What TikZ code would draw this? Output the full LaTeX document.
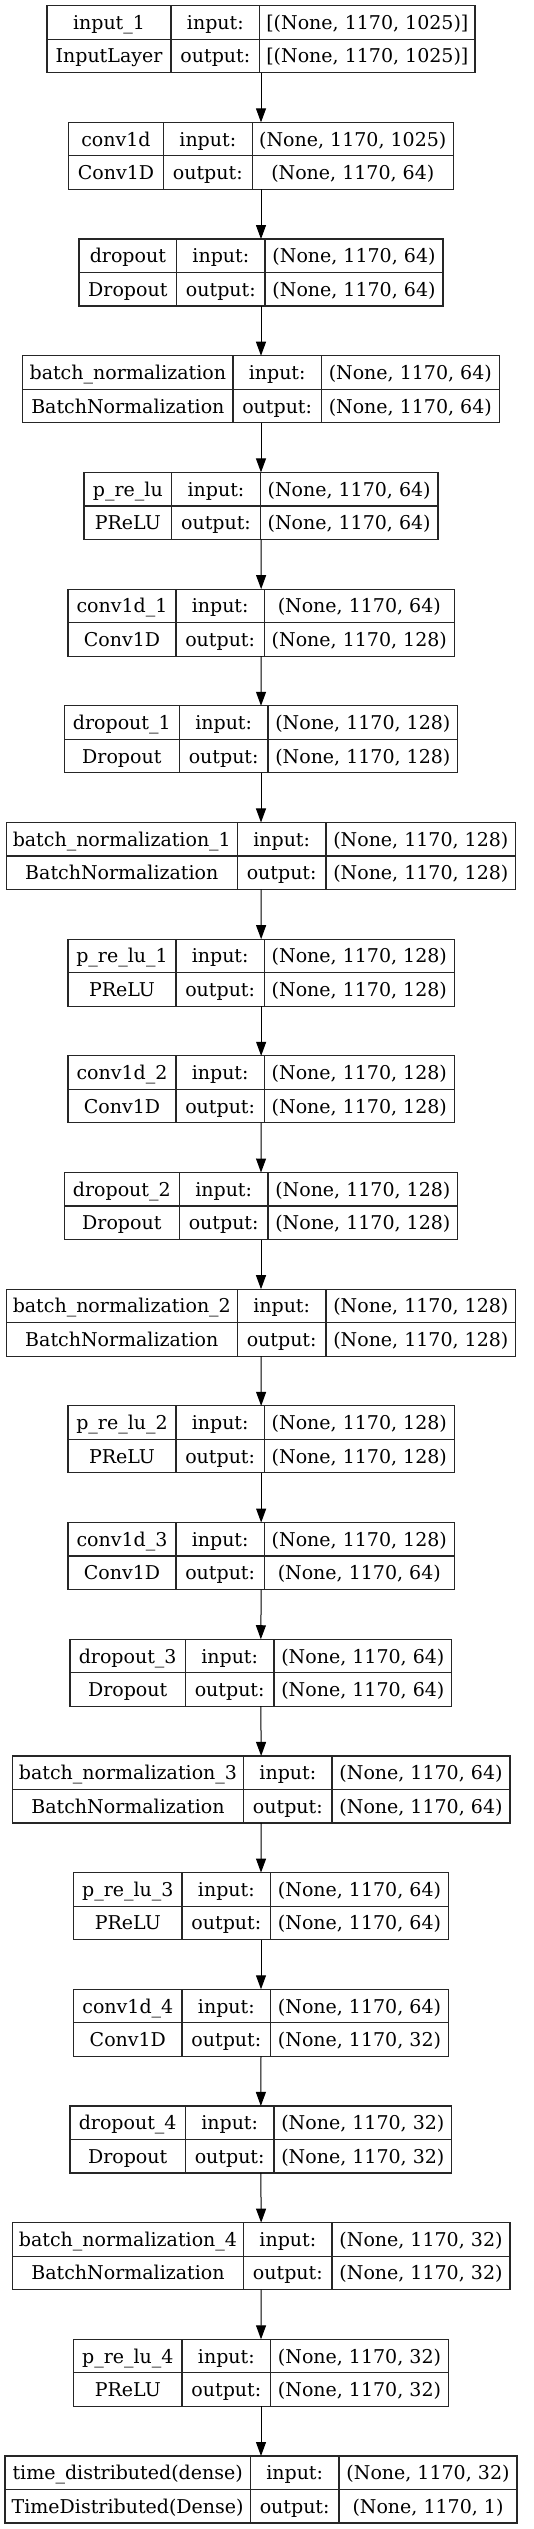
\documentclass[tikz,border=0pt]{standalone}
\usepackage{fontspec}
\setmainfont{DejaVu Serif}
\usetikzlibrary{arrows.meta}
\tikzset{
  box/.style={draw=black!85, line width=1.2pt, inner sep=0pt, outer sep=0pt},
  sep/.style={draw=black!85, line width=1.2pt},
  cell/.style={inner sep=0pt, anchor=base, font=\fontsize{19}{21}\selectfont},
  arr/.style={draw=black, line width=1pt, -{Triangle[length=14pt,width=10pt]}},
}
% #1 index, #2 left, #3 col1, #4 col2, #5 right, #6 name, #7 type, #8 input, #9 output
\newcommand\kbox[9]{%
  \pgfmathsetmacro\kT{5.7+116.68*#1}%
  \pgfmathsetmacro\kB{\kT+67}%
  \pgfmathsetmacro\kM{\kT+33.5}%
  \pgfmathsetmacro\kW{#5-#2}%
  \pgfmathsetmacro\kX{(#2+#5)/2}%
  \pgfmathsetmacro\kA{\kT+23.8}%
  \pgfmathsetmacro\kC{\kT+57.3}%
  \pgfmathsetmacro\kxa{(#2+#3)/2}%
  \pgfmathsetmacro\kxb{(#3+#4)/2}%
  \pgfmathsetmacro\kxc{(#4+#5)/2}%
  \node[box, minimum width=\kW pt, minimum height=67pt] (b#1) at (\kX,\kM) {};
  \draw[sep] (#2,\kM) -- (#5,\kM);
  \draw[sep] (#3,\kT) -- (#3,\kB);
  \draw[sep] (#4,\kT) -- (#4,\kB);
  \node[cell] (n#1) at (\kxa,\kA) {#6};
  \node[cell] (t#1) at (\kxa,\kC) {#7};
  \node[cell] (il#1) at (\kxb,\kA) {input:};
  \node[cell] (ol#1) at (\kxb,\kC) {output:};
  \node[cell] (i#1) at (\kxc,\kA) {#8};
  \node[cell] (o#1) at (\kxc,\kC) {#9};
}
\begin{document}
\begin{tikzpicture}[x=1pt,y=-1pt]
\useasboundingbox (0,0) rectangle (533,2529);
\kbox{0}{47}{171}{259.7}{475}{input\_1}{InputLayer}{[(None, 1170, 1025)]}{[(None, 1170, 1025)]}
\kbox{1}{68.7}{163.3}{252.3}{453.3}{conv1d}{Conv1D}{(None, 1170, 1025)}{(None, 1170, 64)}
\kbox{2}{79}{176.7}{265}{443}{dropout}{Dropout}{(None, 1170, 64)}{(None, 1170, 64)}
\kbox{3}{22.7}{233}{321.3}{499.3}{batch\_normalization}{BatchNormalization}{(None, 1170, 64)}{(None, 1170, 64)}
\kbox{4}{84}{171.7}{260.3}{438}{p\_re\_lu}{PReLU}{(None, 1170, 64)}{(None, 1170, 64)}
\kbox{5}{68}{176}{264.3}{454.3}{conv1d\_1}{Conv1D}{(None, 1170, 64)}{(None, 1170, 128)}
\kbox{6}{64.3}{179.3}{268}{457.7}{dropout\_1}{Dropout}{(None, 1170, 128)}{(None, 1170, 128)}
\kbox{7}{6.3}{237.3}{326}{515.7}{batch\_normalization\_1}{BatchNormalization}{(None, 1170, 128)}{(None, 1170, 128)}
\kbox{8}{68}{176}{264.3}{454.3}{p\_re\_lu\_1}{PReLU}{(None, 1170, 128)}{(None, 1170, 128)}
\kbox{9}{68}{176}{264.3}{454.3}{conv1d\_2}{Conv1D}{(None, 1170, 128)}{(None, 1170, 128)}
\kbox{10}{64.3}{179.3}{268}{457.7}{dropout\_2}{Dropout}{(None, 1170, 128)}{(None, 1170, 128)}
\kbox{11}{6.3}{237.3}{326}{515.7}{batch\_normalization\_2}{BatchNormalization}{(None, 1170, 128)}{(None, 1170, 128)}
\kbox{12}{68}{176}{264.3}{454.3}{p\_re\_lu\_2}{PReLU}{(None, 1170, 128)}{(None, 1170, 128)}
\kbox{13}{68}{176}{264.3}{454.3}{conv1d\_3}{Conv1D}{(None, 1170, 128)}{(None, 1170, 64)}
\kbox{14}{70}{185.3}{274}{451.7}{dropout\_3}{Dropout}{(None, 1170, 64)}{(None, 1170, 64)}
\kbox{15}{12.3}{243.7}{332}{510}{batch\_normalization\_3}{BatchNormalization}{(None, 1170, 64)}{(None, 1170, 64)}
\kbox{16}{73.7}{182}{270.7}{448.3}{p\_re\_lu\_3}{PReLU}{(None, 1170, 64)}{(None, 1170, 64)}
\kbox{17}{73.7}{182}{270.7}{448.3}{conv1d\_4}{Conv1D}{(None, 1170, 64)}{(None, 1170, 32)}
\kbox{18}{70}{185.3}{274}{451.7}{dropout\_4}{Dropout}{(None, 1170, 32)}{(None, 1170, 32)}
\kbox{19}{12.3}{243.7}{332}{510}{batch\_normalization\_4}{BatchNormalization}{(None, 1170, 32)}{(None, 1170, 32)}
\kbox{20}{73.7}{182}{270.7}{448.3}{p\_re\_lu\_4}{PReLU}{(None, 1170, 32)}{(None, 1170, 32)}
\kbox{21}{5}{250.3}{339}{517}{time\_distributed(dense)}{TimeDistributed(Dense)}{(None, 1170, 32)}{(None, 1170, 1)}
\foreach \i [evaluate=\i as \j using int(\i+1)] in {0,...,20}
  \draw[arr] (b\i.south) -- (b\j.north);
\end{tikzpicture}
\end{document}
